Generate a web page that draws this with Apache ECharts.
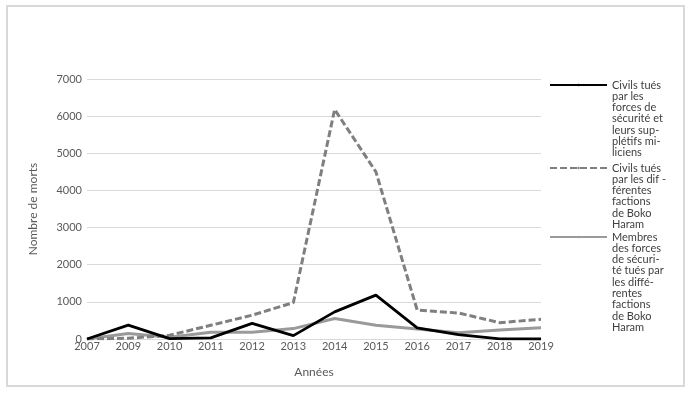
<!DOCTYPE html>
<html>
<head>
<meta charset="utf-8">
<script src="https://cdn.jsdelivr.net/npm/echarts@6/dist/echarts.min.js"></script>
<style>
html,body{margin:0;padding:0;background:#fff;}
#frame{position:absolute;left:6px;top:5px;width:675px;height:378px;border:2px solid #d9d9d9;}
#chart{position:absolute;left:0;top:0;width:688px;height:393px;}
</style>
</head>
<body>
<div id="frame"></div>
<div id="chart"></div>
<script>
const years = ['2007','2009','2010','2011','2012','2013','2014','2015','2016','2017','2018','2019'];
const civilsForces = [0, 375, 10, 30, 420, 90, 730, 1180, 300, 120, 5, 0];
const civilsBoko = [0, 20, 100, 370, 640, 980, 6180, 4500, 780, 700, 440, 530];
const membresForces = [0, 150, 50, 180, 180, 280, 550, 370, 270, 170, 240, 305];
const seriesNames = [
  'Civils tués\npar les\nforces de\nsécurité et\nleurs sup-\nplétifs mi-\nliciens',
  'Civils tués\npar les dif -\nférentes\nfactions\nde Boko\nHaram',
  'Membres\ndes forces\nde sécuri-\nté tués par\nles diffé-\nrentes\nfactions\nde Boko\nHaram'
];
const yTicks = [0, 1000, 2000, 3000, 4000, 5000, 6000, 7000];

const LH = 11.3;
function legendFor(i, firstLineY) {
  const n = seriesNames[i].split('\n').length;
  return {
    show: true,
    orient: 'vertical',
    left: 549,
    top: firstLineY - (n - 1) * LH - LH / 2,
    itemWidth: 57,
    itemHeight: 3,
    padding: 0,
    selectedMode: false,
    data: [{ name: seriesNames[i] }],
    formatter: function (name) {
      const k = name.split('\n').length;
      return '\n'.repeat(k - 1) + name;
    },
    textStyle: {
      fontFamily: 'Lato',
      fontSize: 11,
      color: '#404040',
      lineHeight: LH
    }
  };
}

const chart = echarts.init(document.getElementById('chart'), null, {renderer: 'canvas'});
chart.setOption({
  animation: false,
  backgroundColor: 'transparent',
  textStyle: { fontFamily: 'Lato' },
  grid: { left: 87, right: 147, top: 79, bottom: 54, containLabel: false },
  legend: [legendFor(0, 85), legendFor(1, 168), legendFor(2, 237)],
  xAxis: {
    type: 'category',
    data: years,
    boundaryGap: false,
    name: 'Années',
    nameLocation: 'middle',
    nameGap: 27,
    nameTextStyle: { fontFamily: 'Lato', fontSize: 12, color: '#595959' },
    axisLine: { show: true, lineStyle: { color: '#d9d9d9', width: 1 } },
    axisTick: { show: false },
    axisLabel: { fontFamily: 'Lato', fontSize: 11, color: '#595959', margin: 2, interval: 0 }
  },
  yAxis: {
    type: 'value',
    min: yTicks[0],
    max: yTicks[yTicks.length - 1],
    interval: 1000,
    name: 'Nombre de morts',
    nameLocation: 'middle',
    nameGap: 48,
    nameTextStyle: { fontFamily: 'Lato', fontSize: 12, color: '#595959' },
    axisLine: { show: false },
    axisTick: { show: false },
    axisLabel: { fontFamily: 'Lato', fontSize: 11, color: '#595959', margin: 5,
      formatter: function (v) { return String(v); } },
    splitLine: { show: true, lineStyle: { color: '#d9d9d9', width: 1 } }
  },
  series: [
    {
      name: seriesNames[0], type: 'line', data: civilsForces,
      symbol: 'none', showSymbol: false,
      lineStyle: { color: '#000000', width: 2.8 },
      itemStyle: { color: '#000000' }, z: 4
    },
    {
      name: seriesNames[1], type: 'line', data: civilsBoko,
      symbol: 'none', showSymbol: false,
      lineStyle: { color: '#7f7f7f', width: 3, type: [7, 3] },
      itemStyle: { color: '#7f7f7f' }, z: 3
    },
    {
      name: seriesNames[2], type: 'line', data: membresForces,
      symbol: 'none', showSymbol: false,
      lineStyle: { color: '#9a9a9a', width: 3 },
      itemStyle: { color: '#9a9a9a' }, z: 2
    }
  ]
});
</script>
</body>
</html>
